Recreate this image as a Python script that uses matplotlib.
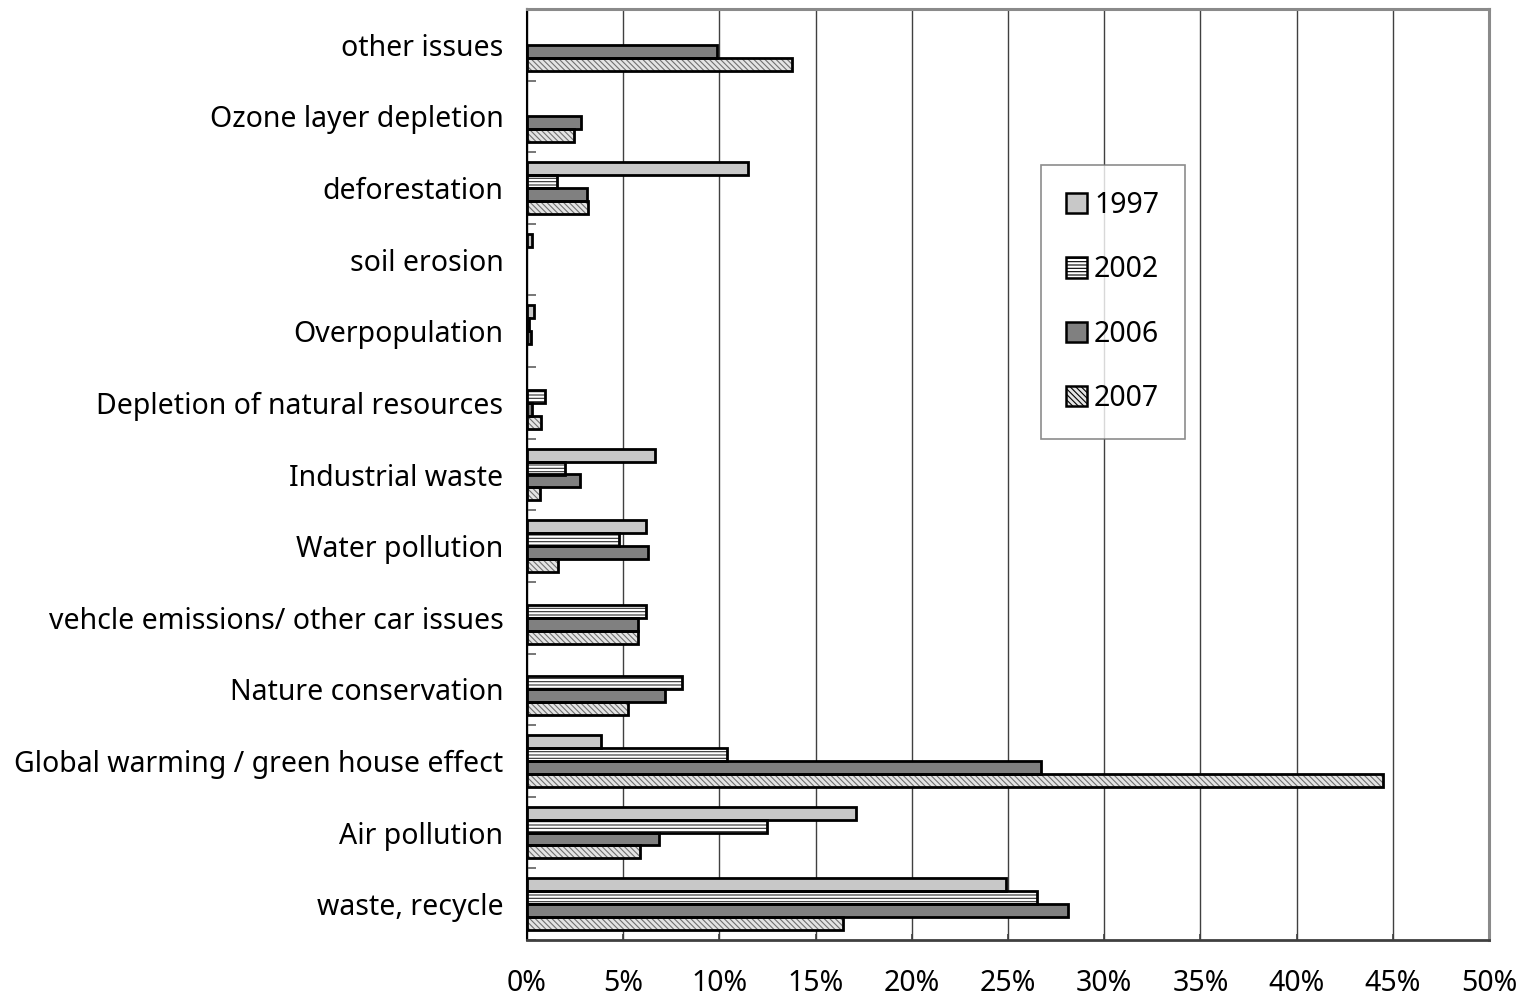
import numpy as np
import matplotlib
matplotlib.use("Agg")
import matplotlib.pyplot as plt
from matplotlib.patches import Patch
from matplotlib.ticker import PercentFormatter, FixedLocator

plt.rcParams['font.family'] = ['Noto Sans', 'DejaVu Sans']
plt.rcParams['hatch.linewidth'] = 0.8

# categories listed top to bottom as in the chart
cats = ["other issues", "Ozone layer depletion", "deforestation", "soil erosion",
        "Overpopulation", "Depletion of natural resources", "Industrial waste",
        "Water pollution", "vehcle emissions/ other car issues", "Nature conservation",
        "Global warming / green house effect", "Air pollution", "waste, recycle"]
years = ["1997", "2002", "2006", "2007"]
v1997 = [0, 0, 11.5, 0.25, 0.35, 0, 6.67, 6.17, 0, 0, 3.87, 17.1, 24.9]
v2002 = [0, 0, 1.58, 0, 0.1, 0.95, 1.99, 4.78, 6.18, 8.07, 10.4, 12.45, 26.5]
v2006 = [9.89, 2.79, 3.1, 0, 0.2, 0.27, 2.77, 6.3, 5.77, 7.19, 26.7, 6.87, 28.1]
v2007 = [13.76, 2.44, 3.19, 0, 0, 0.72, 0.69, 1.6, 5.79, 5.27, 44.47, 5.88, 16.45]

series = [v1997, v2002, v2006, v2007]
faces = ['#c8c8c8', 'white', '#808080', '#e4e4e4']
hatches = [None, '-----', None, '\\\\\\\\\\\\']
hcols = ['#c8c8c8', '#303030', '#808080', '#707070']
fsz = 20.5

fig = plt.figure(figsize=(15.22, 9.96), dpi=100)
ax = fig.add_axes([527/1522, 56/996, (1489-527)/1522, (940-9)/996])

n = len(cats)
ypos = np.arange(n)[::-1]  # first category at top
bh = 0.18
offs = [0.27, 0.09, -0.09, -0.27]

handles = []
for vals, fc, ht, hc, off, yr in zip(series, faces, hatches, hcols, offs, years):
    vals = np.array(vals) / 100.0
    lw = np.where(vals > 0, 2.0, 0.0)
    ax.barh(ypos + off, vals, height=bh, color=fc, hatch=ht, edgecolor=hc,
            linewidth=0, zorder=3)
    ax.barh(ypos + off, vals, height=bh, facecolor='none', edgecolor='black',
            linewidth=lw, zorder=4)
    handles.append(Patch(facecolor=fc, hatch=ht, edgecolor='black', linewidth=1.8, label=yr))

ax.set_xlim(0, 0.5)
ax.set_ylim(-0.5, n - 0.5)
ax.xaxis.set_major_locator(FixedLocator(np.arange(0, 0.51, 0.05)))
ax.xaxis.set_major_formatter(PercentFormatter(xmax=1, decimals=0))
ax.grid(axis='x', color='#404040', linewidth=1.0, zorder=0)
ax.set_axisbelow(True)

ax.set_yticks(ypos)
ax.set_yticklabels(cats)
ax.yaxis.set_minor_locator(FixedLocator(np.arange(-0.5, n, 1.0)))
ax.tick_params(axis='y', which='major', length=0, pad=17, labelsize=fsz)
ax.tick_params(axis='y', which='minor', direction='in', length=6.5, width=1.2, color='#606060')
ax.tick_params(axis='x', which='major', direction='in', length=4, width=1.2,
               color='#404040', pad=21, labelsize=fsz)

ax.spines['left'].set_color('black')
ax.spines['left'].set_linewidth(1.5)
ax.spines['bottom'].set_color('#404040')
ax.spines['bottom'].set_linewidth(2)
for s in ['top', 'right']:
    ax.spines[s].set_color('#8a8a8a')
    ax.spines[s].set_linewidth(2.2)

leg = ax.legend(handles=handles, loc='upper left', bbox_to_anchor=(0.534, 0.832),
                fontsize=fsz, frameon=True, fancybox=False, borderpad=0.9,
                labelspacing=1.24, handlelength=0.72, handleheight=0.72,
                handletextpad=0.25, borderaxespad=0)
leg.get_frame().set_edgecolor('#707070')
leg.get_frame().set_linewidth(1.2)
leg.set_zorder(5)

fig.savefig('out.png', dpi=100)
